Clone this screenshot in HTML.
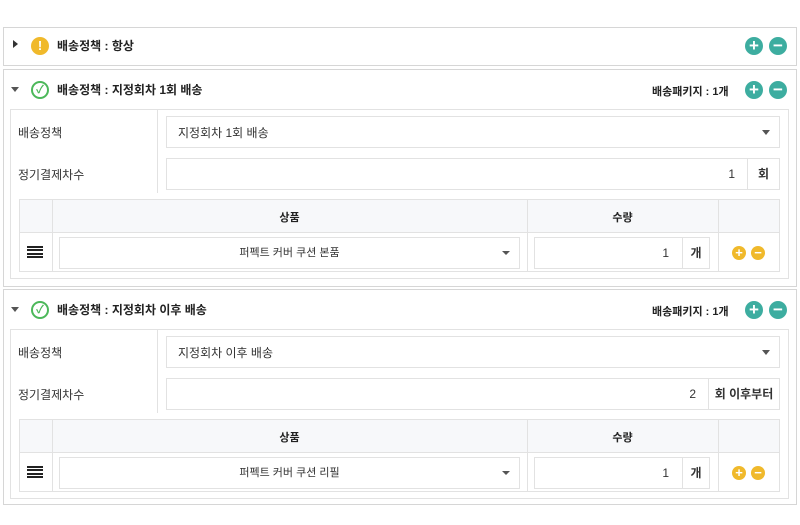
<!DOCTYPE html>
<html><head><meta charset="utf-8"><style>
*{box-sizing:border-box;margin:0;padding:0}
body{width:800px;height:525px;background:#fff;position:relative;font-family:"Liberation Sans","Noto Sans CJK KR",sans-serif;font-size:12px;color:#333;overflow:hidden}
.a{position:absolute}
.panel{position:absolute;left:3px;width:794px;border:1px solid #d6d6d6;background:#fff}
.box{border:1px solid #e2e2e2;background:#fff}
.t{font-weight:bold;font-size:12px;color:#222}
.caret{width:0;height:0;border-left:4px solid transparent;border-right:4px solid transparent;border-top:5px solid #555}
.circ{width:18px;height:18px;border-radius:50%;color:#fff;font-weight:bold;text-align:center;line-height:18px;font-size:17px}
.th{background:#f7f8fa}
</style></head><body>

<div class="panel" style="top:27px;height:39px"></div>
<div class="a" style="left:13px;top:40px;width:0;height:0;border-top:4px solid transparent;border-bottom:4px solid transparent;border-left:5px solid #333"></div>
<div class="a circ" style="left:31px;top:37px;background:#f0b92b;font-size:13px">!</div>
<div class="a t" style="left:57px;top:37px">배송정책 : 항상</div>
<div class="a circ" style="left:745px;top:37px;background:#3dada0">+</div>
<div class="a circ" style="left:769px;top:37px;background:#3dada0">−</div>

<div id="p2"></div>
<script>
function panel(dy,title,sel,num,unit,unitW,prod){
var h='';
h+='<div class="panel" style="top:'+(69+dy)+'px;height:218px"></div>';
h+='<div class="a caret" style="left:11px;top:'+(87+dy)+'px"></div>';
h+='<div class="a circ" style="left:31px;top:'+(81+dy)+'px;background:#fff;border:2px solid #4cb85a;color:#4cb85a;font-size:11px;line-height:14px">✓</div>';
h+='<div class="a t" style="left:57px;top:'+(81+dy)+'px">'+title+'</div>';
h+='<div class="a t" style="left:652px;top:'+(83+dy)+'px;font-size:11px">배송패키지 : 1개</div>';
h+='<div class="a circ" style="left:745px;top:'+(81+dy)+'px;background:#3dada0">+</div>';
h+='<div class="a circ" style="left:769px;top:'+(81+dy)+'px;background:#3dada0">−</div>';
h+='<div class="a box" style="left:10px;top:'+(109+dy)+'px;width:779px;height:170px"></div>';
h+='<div class="a" style="left:157px;top:'+(109+dy)+'px;width:1px;height:84px;background:#e2e2e2"></div>';
h+='<div class="a" style="left:18px;top:'+(124+dy)+'px">배송정책</div>';
h+='<div class="a" style="left:18px;top:'+(166+dy)+'px">정기결제차수</div>';
h+='<div class="a box" style="left:166px;top:'+(116+dy)+'px;width:614px;height:32px"></div>';
h+='<div class="a" style="left:178px;top:'+(124+dy)+'px">'+sel+'</div>';
h+='<div class="a caret" style="left:762px;top:'+(130+dy)+'px"></div>';
h+='<div class="a box" style="left:166px;top:'+(158+dy)+'px;width:'+(614-unitW)+'px;height:32px;text-align:right;line-height:30px;padding-right:12px">'+num+'</div>';
h+='<div class="a box" style="left:'+(779-unitW)+'px;top:'+(158+dy)+'px;width:'+(unitW+1)+'px;height:32px;text-align:center;line-height:30px;font-weight:bold">'+unit+'</div>';
h+='<div class="a box th" style="left:19px;top:'+(199+dy)+'px;width:761px;height:34px"></div>';
h+='<div class="a box" style="left:19px;top:'+(232+dy)+'px;width:761px;height:40px"></div>';
[52,527,718].forEach(function(x){h+='<div class="a" style="left:'+x+'px;top:'+(199+dy)+'px;width:1px;height:73px;background:#e2e2e2"></div>'});
h+='<div class="a t" style="left:52px;width:475px;text-align:center;top:'+(209+dy)+'px;font-size:11px">상품</div>';
h+='<div class="a t" style="left:527px;width:191px;text-align:center;top:'+(209+dy)+'px;font-size:11px">수량</div>';
for(var i=0;i<4;i++)h+='<div class="a" style="left:27px;top:'+(246+dy+i*3.3)+'px;width:16px;height:2px;background:#222"></div>';
h+='<div class="a box" style="left:59px;top:'+(237+dy)+'px;width:461px;height:32px;text-align:center;line-height:30px;font-size:11px">'+prod+'</div>';
h+='<div class="a caret" style="left:502px;top:'+(251+dy)+'px;border-top-width:4px"></div>';
h+='<div class="a box" style="left:534px;top:'+(237+dy)+'px;width:149px;height:32px;text-align:right;line-height:30px;padding-right:13px">1</div>';
h+='<div class="a box" style="left:682px;top:'+(237+dy)+'px;width:28px;height:32px;text-align:center;line-height:30px;font-weight:bold">개</div>';
h+='<div class="a circ" style="left:732px;top:'+(246+dy)+'px;width:14px;height:14px;line-height:14px;font-size:13px;background:#f0b92b">+</div>';
h+='<div class="a circ" style="left:751px;top:'+(246+dy)+'px;width:14px;height:14px;line-height:14px;font-size:13px;background:#f0b92b">−</div>';
return h;}
document.getElementById('p2').innerHTML=panel(0,'배송정책 : 지정회차 1회 배송','지정회차 1회 배송','1','회',32,'퍼펙트 커버 쿠션 본품')+panel(220,'배송정책 : 지정회차 이후 배송','지정회차 이후 배송','2','회 이후부터',71,'퍼펙트 커버 쿠션 리필').replace('height:218px','height:216px');
</script>
</body></html>
